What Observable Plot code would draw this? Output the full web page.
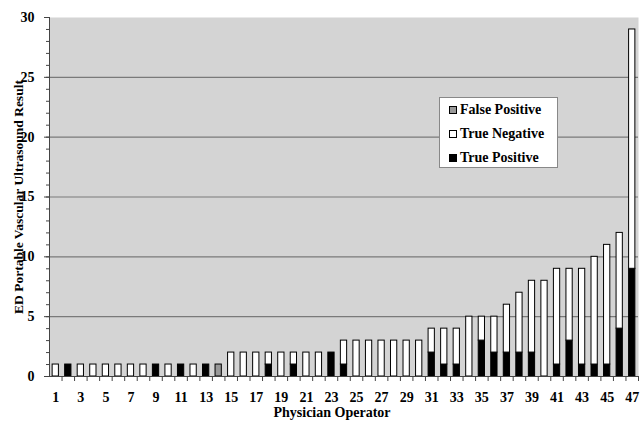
<!DOCTYPE html>
<html><head><meta charset="utf-8">
<script src="https://cdn.jsdelivr.net/npm/d3@7"></script>
<script src="https://cdn.jsdelivr.net/npm/@observablehq/plot@0.6"></script>
<style>
body{margin:0;background:#fff;}
#wrap{position:relative;width:641px;height:421px;}
#legend{position:absolute;left:439px;top:97px;width:117px;height:69px;background:#fff;border:1px solid #888;font:bold 14px "Liberation Serif",serif;color:#000;}
.row{position:absolute;left:9px;display:flex;align-items:center;height:16px;white-space:nowrap;}
.sw{width:6px;height:6px;border:1px solid #000;margin-right:3px;}
</style></head>
<body><div id="wrap"></div>
<script>
const physicians = d3.range(1, 48);
const truePositive = [0,1,0,0,0,0,0,0,1,0,1,0,1,0, 0,0,0,1,0,1,0,0,2, 1,0,0,0,0,0,0, 2,1,1,0,3,2,2,2,2,0,1,3,1,1,1,4,9];
const trueNegative = [1,0,1,1,1,1,1,1,0,1,0,1,0,0, 2,2,2,1,2,1,2,2,0, 2,3,3,3,3,3,3, 2,3,3,5,2,3,4,5,6,8,8,6,8,9,10,8,20];
const falsePositive = [0,0,0,0,0,0,0,0,0,0,0,0,0,1, 0,0,0,0,0,0,0,0,0, 0,0,0,0,0,0,0, 0,0,0,0,0,0,0,0,0,0,0,0,0,0,0,0,0];
const seriesNames = ["True Positive", "True Negative", "False Positive"];
const seriesColors = ["#000000", "#ffffff", "#999999"];
const legendOrder = ["False Positive", "True Negative", "True Positive"];
const yTitle = "ED Portable Vascular Ultrasound Result";
const xTitle = "Physician Operator";

const seriesValues = [truePositive, trueNegative, falsePositive];
const rows = [];
physicians.forEach((p, i) => {
  seriesNames.forEach((s, k) => {
    const v = seriesValues[k][i];
    if (v > 0) rows.push({physician: p, result: s, count: v});
  });
});

const W = 641, H = 421, mL = 49, mR = 3, mT = 17, mB = 45;
const step = (W - mL - mR) / physicians.length;

const chart = Plot.plot({
  width: W, height: H,
  marginLeft: mL, marginRight: mR, marginTop: mT, marginBottom: mB,
  style: {fontFamily: "'Liberation Serif', serif", fontWeight: "bold", fontSize: "14px", background: "#fff", color: "#000"},
  x: {type: "band", domain: physicians, paddingInner: 0.5, paddingOuter: 0.25, round: false, axis: null},
  y: {domain: [0, 30], axis: null},
  color: {domain: seriesNames, range: seriesColors},
  marks: [
    Plot.frame({fill: "#d4d4d4"}),
    Plot.ruleY([5, 10, 15, 20, 25], {stroke: "#7a7a7a", strokeWidth: 1.2}),
    Plot.barY(rows, {x: "physician", y: "count", fill: "result", stroke: "#000", strokeWidth: 1}),
    Plot.ruleY([0], {stroke: "#444"}),
    Plot.frame({anchor: "left", stroke: "#444"}),
    Plot.axisY({ticks: d3.range(0, 31), tickSize: 3, text: null, label: null, stroke: "#444"}),
    Plot.axisY({ticks: d3.range(0, 31, 5), tickSize: 5, tickPadding: 10, label: null, stroke: "#444", fontSize: 14}),
    Plot.axisX({ticks: physicians, tickSize: 5, text: null, label: null, dx: step / 2, stroke: "#444"}),
    Plot.axisX({ticks: physicians.filter(d => d % 2 === 1), tickSize: 0, tickPadding: 16, label: null, fontSize: 14}),
    Plot.text([yTitle], {frameAnchor: "left", text: d => d, rotate: -90, dx: -31, textAnchor: "middle", lineAnchor: "middle", fontSize: 13.5, fill: "#000"}),
    Plot.text([xTitle], {frameAnchor: "bottom", text: d => d, dx: -12, dy: 36, textAnchor: "middle", lineAnchor: "middle", fontSize: 14, fill: "#000"})
  ]
});

const wrap = document.getElementById("wrap");
wrap.appendChild(chart);
const legend = document.createElement("div");
legend.id = "legend";
legendOrder.forEach((name, i) => {
  const row = document.createElement("div");
  row.className = "row";
  row.style.top = (4 + i * 24) + "px";
  const sw = document.createElement("span");
  sw.className = "sw";
  sw.style.background = seriesColors[seriesNames.indexOf(name)];
  const label = document.createElement("span");
  label.textContent = name;
  row.appendChild(sw);
  row.appendChild(label);
  legend.appendChild(row);
});
wrap.appendChild(legend);
</script>
</body></html>
